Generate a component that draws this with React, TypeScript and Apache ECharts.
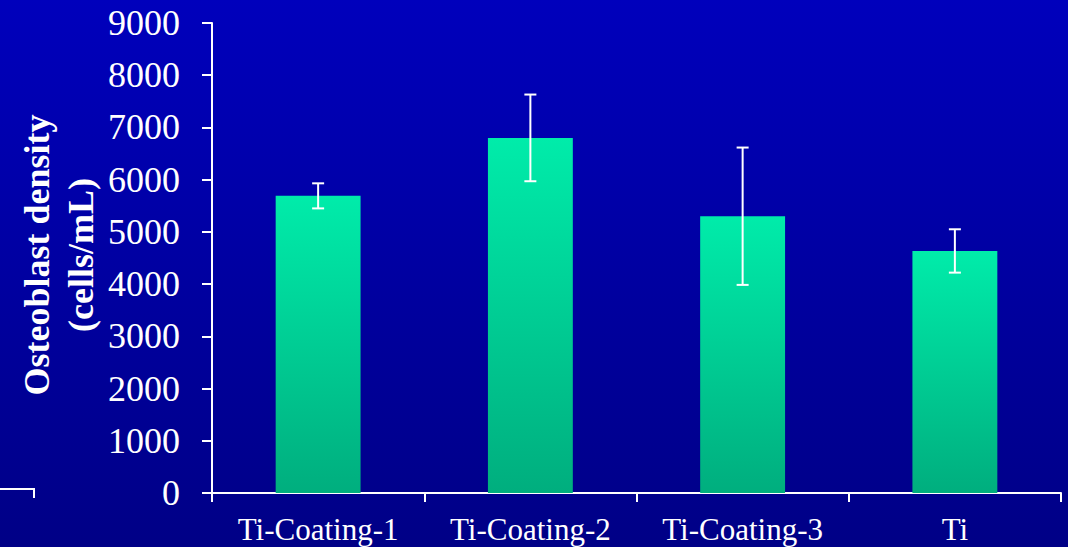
import React, { useEffect, useRef } from "react";
import * as echarts from "echarts";

const categories = ["Ti-Coating-1", "Ti-Coating-2", "Ti-Coating-3", "Ti"];
const means = [5690, 6800, 5300, 4635];
const errors = [240, 830, 1315, 415];
const yTicks = [0, 1000, 2000, 3000, 4000, 5000, 6000, 7000, 8000, 9000];

const SERIF = "'Liberation Serif', 'Times New Roman', serif";

export default function App() {
  const ref = useRef<HTMLDivElement>(null);
  useEffect(() => {
    document.body.style.margin = "0";
    const chart = echarts.init(ref.current!, null, { renderer: "svg" });
    const errData = means.map((m, i) => [i, m - errors[i], m + errors[i]]);
    chart.setOption({
      animation: false,
      backgroundColor: new echarts.graphic.LinearGradient(0, 0, 0, 1, [
        { offset: 0, color: "#0000BC" },
        { offset: 1, color: "#000086" },
      ]),
      grid: { left: 212, right: 7, top: 23, bottom: 54, containLabel: false },
      xAxis: {
        type: "category",
        data: categories,
        axisLine: { lineStyle: { color: "#ffffff", width: 2 } },
        axisTick: { show: true, length: 9, lineStyle: { color: "#ffffff", width: 2 } },
        axisLabel: { color: "#ffffff", fontFamily: SERIF, fontSize: 31, margin: 21 },
        splitLine: { show: false },
      },
      yAxis: {
        type: "value",
        min: 0,
        max: 9000,
        interval: 1000,
        axisLine: { show: true, lineStyle: { color: "#ffffff", width: 2 } },
        axisTick: { show: true, length: 10, lineStyle: { color: "#ffffff", width: 2 } },
        axisLabel: {
          color: "#ffffff",
          fontFamily: SERIF,
          fontSize: 36,
          margin: 32,
          formatter: (v: number) => (yTicks.includes(v) ? String(v) : ""),
        },
        splitLine: { show: false },
      },
      graphic: [
        {
          type: "text",
          x: 59,
          y: 255,
          rotation: Math.PI / 2,
          style: {
            text: "Osteoblast density\n(cells/mL)",
            fill: "#ffffff",
            font: `bold 36px ${SERIF}`,
            lineHeight: 44,
            align: "center",
            verticalAlign: "middle",
          },
        },
        {
          type: "polyline",
          shape: { points: [[0, 489], [34, 489], [34, 498]] },
          style: { stroke: "#ffffff", lineWidth: 2, fill: "none" },
        },
      ],
      series: [
        {
          type: "bar",
          data: means,
          barWidth: "40%",
          itemStyle: {
            color: new echarts.graphic.LinearGradient(0, 0, 0, 1, [
              { offset: 0, color: "#00ECAA" },
              { offset: 1, color: "#00AE7E" },
            ]),
          },
        },
        {
          type: "custom",
          data: errData,
          renderItem: (params: any, api: any) => {
            const x = api.value(0);
            const lo = api.coord([x, api.value(1)]);
            const hi = api.coord([x, api.value(2)]);
            const cx = lo[0];
            const hw = 6;
            const st = { stroke: "#ffffff", lineWidth: 2 };
            return {
              type: "group",
              children: [
                { type: "line", shape: { x1: cx, y1: lo[1], x2: cx, y2: hi[1] }, style: st },
                { type: "line", shape: { x1: cx - hw, y1: lo[1], x2: cx + hw, y2: lo[1] }, style: st },
                { type: "line", shape: { x1: cx - hw, y1: hi[1], x2: cx + hw, y2: hi[1] }, style: st },
              ],
            };
          },
          z: 10,
        },
      ],
    });
    return () => chart.dispose();
  }, []);
  return <div ref={ref} style={{ width: 1068, height: 547 }} />;
}
